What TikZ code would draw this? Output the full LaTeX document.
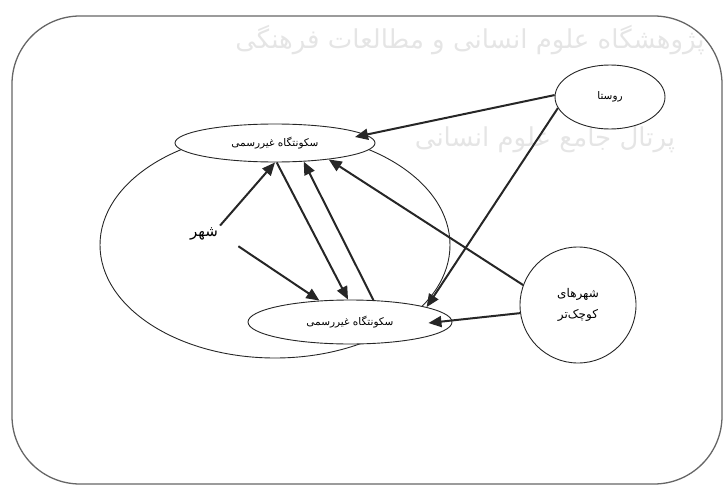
\documentclass[tikz,border=0pt]{standalone}
\usepackage{fontspec}
\newfontfamily\fa[Script=Arabic]{DejaVu Sans}
\TeXXeTstate=1
\usetikzlibrary{arrows.meta,shapes.geometric,calc}

\begin{document}
\begin{tikzpicture}[x=1pt,y=-1pt,
  shapeline/.style={draw=black!85, line width=0.9pt},
  link/.style={draw=black!85, line width=2pt,
    -{Triangle[length=13pt,width=11pt]}},
  settle/.style={ellipse, shapeline, fill=white, inner sep=1pt,
    font=\fa\fontsize{10.5}{12}\selectfont},
  bgstamp/.style={text=black!10, font=\fa\fontsize{26}{30}\selectfont}]
\useasboundingbox (0,0) rectangle (728,487);

% faint institutional marks in the background
\node[bgstamp] (wm1) at (470,40) {\beginR پژوهشگاه علوم انسانی و مطالعات فرهنگی\endR};
\node[bgstamp] (wm2) at (545,140) {\beginR پرتال جامع علوم انسانی\endR};

% frame
\draw[draw=black!60, line width=1.3pt, rounded corners=68pt]
  (12,16) rectangle (722,484);

% the city region and its two informal settlements
\node[ellipse, shapeline, minimum width=350pt, minimum height=226pt] (city) at (275,245) {};
\node[settle, minimum width=200pt, minimum height=38pt] (up) at (275,143)
  {\beginR سکونتگاه غیررسمی\endR};
\node[settle, minimum width=204pt, minimum height=44pt] (lo) at (350,322)
  {\beginR سکونتگاه غیررسمی\endR};

% sources of migration
\node[ellipse, shapeline, minimum width=110pt, minimum height=64pt,
  font=\fa\fontsize{10.5}{12}\selectfont] (ros) at (610,97) {\beginR روستا\endR};
\node[circle, shapeline, minimum size=116pt, align=center,
  font=\fa\fontsize{12}{21}\selectfont] (small) at (578,305)
  {\beginR شهرهای\endR\\\beginR کوچک‌تر\endR};
\node[font=\fa\fontsize{15}{17}\selectfont, inner sep=2pt] (shahr) at (204,234)
  {\beginR شهر\endR};

% flows
\draw[link] (shahr.north east) -- (up.-90);
\draw[link, shorten <=22pt] (shahr.east) -- (lo.145);
\draw[link] (up.-85) -- (lo.95);
\draw[link] (lo.43) -- (up.-33);
\draw[link] (ros.178) -- ($(up.center)+(80,-6)$);
\draw[link] (ros.192) -- (lo.11);
\draw[link] (small.160) -- (up.-17);
\draw[link] (small.188) -- ($(lo.east)+(-24,1)$);
\end{tikzpicture}
\end{document}
